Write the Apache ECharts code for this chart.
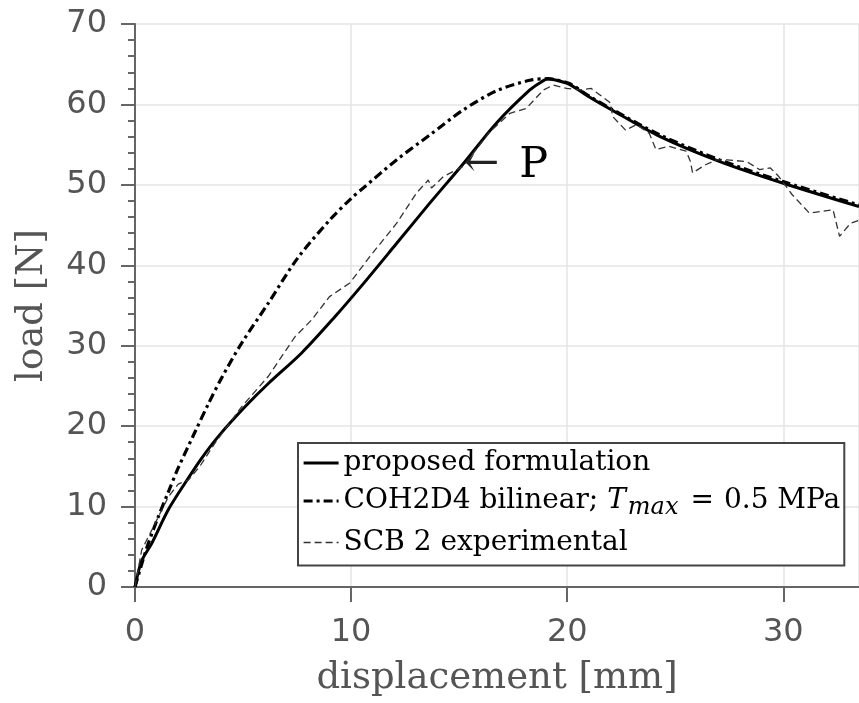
<!DOCTYPE html>
<html><head><meta charset="utf-8">
<script src="https://cdn.jsdelivr.net/npm/echarts@6/dist/echarts.min.js"></script>
<style>html,body{margin:0;padding:0;background:#fff}#c{width:859px;height:703px}</style>
</head><body><div id="c"></div>
<script>
// proposed formulation
const propX = [0, 0.3, 0.77, 1.54, 2.31, 3.08, 3.85, 5.09, 6.17, 7.71, 9.25, 10.5, 12.1, 13.6, 15.18, 16.73, 18.27, 18.8, 19.1, 19.5, 20.1, 21.04, 22.0, 24.3, 27.06, 30.0, 33.5];
const propY = [0, 3.2, 5.4, 9.6, 12.9, 16.0, 18.7, 22.4, 25.3, 29.1, 33.6, 37.5, 42.7, 47.6, 52.6, 57.7, 61.8, 62.8, 63.15, 63.0, 62.5, 60.9, 59.4, 56.0, 52.9, 50.2, 47.3];
// COH2D4 bilinear
const cohX = [0, 0.5, 1.0, 1.54, 2.0, 2.78, 3.4, 4.01, 4.93, 6.17, 7.5, 9.0, 10.0, 10.56, 12.1, 13.64, 15.18, 16.73, 18.27, 19.1, 19.5, 20.1, 21.04, 22.0, 24.3, 27.06, 30.0, 33.5];
const cohY = [0, 4.5, 8.2, 11.8, 14.8, 19.3, 22.8, 26.0, 30.3, 35.3, 40.8, 45.6, 48.3, 49.6, 53.1, 56.2, 59.3, 61.7, 63.0, 63.2, 63.05, 62.6, 61.0, 59.5, 56.2, 53.1, 50.4, 47.5];
// SCB 2 experimental
const expX = [0, 0.31, 0.93, 1.54, 2.0, 2.47, 3.0, 3.7, 4.93, 6.17, 7.4, 8.17, 9.0, 9.94, 10.87, 12.1, 13.03, 13.57, 13.72, 14.26, 15.18, 16.42, 17.35, 18.1, 18.9, 19.35, 19.97, 20.58, 21.1, 22.0, 22.1, 22.7, 23.2, 23.8, 24.1, 24.7, 25.5, 25.7, 25.8, 26.4, 26.9, 27.4, 28.3, 28.9, 29.4, 29.8, 30.4, 31.2, 31.8, 32.3, 32.6, 33.1, 33.5];
const expY = [0, 4.6, 7.9, 11.2, 12.8, 13.3, 15.0, 17.9, 22.4, 26.2, 31.1, 33.2, 36.1, 37.8, 41.1, 45.2, 49.0, 50.6, 49.6, 51.0, 52.3, 56.6, 58.9, 59.5, 61.8, 62.4, 62.0, 61.8, 62.0, 60.2, 58.5, 56.8, 57.5, 56.4, 54.4, 54.8, 54.2, 52.9, 51.5, 52.5, 53.1, 53.1, 52.9, 51.9, 52.1, 51.0, 48.8, 46.5, 46.7, 46.9, 43.6, 45.2, 45.6];
const xTicks = [0, 10, 20, 30];
const yTicks = [0, 10, 20, 30, 40, 50, 60, 70];
const seriesNames = ['proposed formulation', 'COH2D4 bilinear', 'SCB 2 experimental'];

const zip = (xs, ys) => xs.map((x, i) => [x, ys[i]]);
const SERIF = 'DejaVu Serif';
const styles = [
  {color: '#000', width: 3, type: 'solid'},
  {color: '#000', width: 3.2, type: [9, 4, 3, 4]},
  {color: '#333', width: 1.3, type: [7, 4]}
];
const chart = echarts.init(document.getElementById('c'), null, {renderer: 'canvas'});
chart.setOption({
  animation: false,
  backgroundColor: '#fff',
  grid: {left: 135, right: 0, top: 24, bottom: 116, containLabel: false},
  xAxis: {
    type: 'value', min: xTicks[0], max: 33.5, interval: 10,
    name: 'displacement [mm]', nameLocation: 'middle', nameGap: 73,
    nameTextStyle: {fontFamily: SERIF, fontSize: 37, color: '#555'},
    axisLine: {lineStyle: {color: '#666', width: 2}},
    axisTick: {length: 15, lineStyle: {color: '#666', width: 2}},
    axisLabel: {margin: 30, fontFamily: 'DejaVu Sans', fontSize: 32, color: '#555', showMaxLabel: false},
    splitLine: {lineStyle: {color: '#e4e4e4', width: 1.5}}
  },
  yAxis: {
    type: 'value', min: yTicks[0], max: yTicks[yTicks.length - 1], interval: 10,
    name: 'load [N]', nameLocation: 'middle', nameGap: 84,
    nameTextStyle: {fontFamily: SERIF, fontSize: 37, color: '#555'},
    axisLine: {show: true, lineStyle: {color: '#666', width: 2}},
    axisTick: {show: true, length: 14, lineStyle: {color: '#666', width: 2}},
    minorTick: {show: true, splitNumber: 5, length: 7, lineStyle: {color: '#666', width: 2}},
    axisLabel: {margin: 28, fontFamily: 'DejaVu Sans', fontSize: 32, color: '#555'},
    splitLine: {lineStyle: {color: '#e4e4e4', width: 1.5}}
  },
  legend: {
    orient: 'vertical', left: 298, top: 443,
    backgroundColor: '#fff', borderColor: '#444', borderWidth: 2, borderRadius: 0,
    padding: [5, 4, 8, 4], itemGap: 8, itemWidth: 35, itemHeight: 14,
    itemStyle: {opacity: 0},
    data: seriesNames.map((n, i) => ({name: n, lineStyle: Object.assign({}, styles[i])})),
    formatter: n => n === seriesNames[1] ? 'COH2D4 bilinear; {i|T}{s|max}{e|=}0.5 MPa' : n,
    textStyle: {
      fontFamily: SERIF, fontSize: 28, color: '#000', lineHeight: 30,
      rich: {
        i: {fontFamily: SERIF, fontStyle: 'italic', fontSize: 28, color: '#000'},
        s: {fontFamily: SERIF, fontStyle: 'italic', fontSize: 24, color: '#000', padding: [13, 3, 0, 2]},
        e: {fontFamily: SERIF, fontSize: 28, color: '#000', padding: [0, 10, 0, 9]}
      }
    }
  },
  series: [
    {name: seriesNames[0], type: 'line', data: zip(propX, propY), smooth: 0.3, symbol: 'none',
     lineStyle: styles[0], itemStyle: {color: '#000'}, z: 3,
     markPoint: {symbol: 'circle', symbolSize: 1, itemStyle: {color: 'rgba(0,0,0,0)'},
       data: [{coord: [15.2, 52.4]}],
       label: {show: true, position: 'right', distance: 0, formatter: '{a|←}{p|P}',
         rich: {a: {fontFamily: SERIF, fontSize: 42, color: '#222'},
                p: {fontFamily: SERIF, fontSize: 43, color: '#000', padding: [0, 0, 0, 20]}}}}},
    {name: seriesNames[1], type: 'line', data: zip(cohX, cohY), smooth: 0.3, symbol: 'none',
     lineStyle: styles[1], itemStyle: {color: '#000'}, z: 2},
    {name: seriesNames[2], type: 'line', data: zip(expX, expY), smooth: false, symbol: 'none',
     lineStyle: styles[2], itemStyle: {color: '#333'}, z: 4}
  ]
});
</script></body></html>
